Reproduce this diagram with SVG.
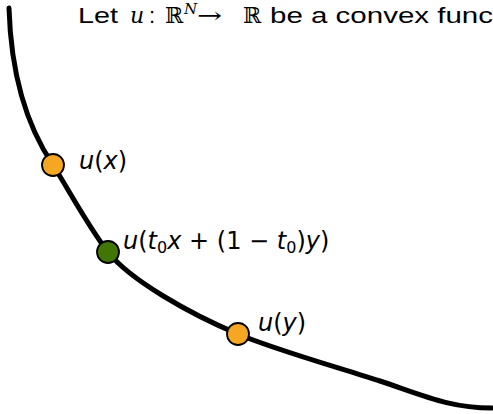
<svg xmlns="http://www.w3.org/2000/svg" width="493" height="414" viewBox="0 0 493 414">
<style>
.curve{fill:none;stroke:#000;stroke-width:5;stroke-linecap:round}
.pt{stroke:#000;stroke-width:1.8}
.orange{fill:#F5A623}
.green{fill:#417505}
.lbl{font-family:"DejaVu Sans",sans-serif;font-size:24px;fill:#000}
.it{font-style:italic}
.title{font-family:"Liberation Sans",sans-serif;font-size:22px;fill:#000}
.math{font-family:"DejaVu Serif",serif}
</style>
<rect width="493" height="414" fill="#fff"/>
<g id="title">
<text class="title" y="23"><tspan x="78" textLength="40" lengthAdjust="spacingAndGlyphs">Let</tspan><tspan x="130" class="math it">u</tspan><tspan x="149">:</tspan><tspan x="165" class="math">ℝ</tspan><tspan x="184" y="14" class="math it" font-size="15">N</tspan><tspan x="197" y="23" class="math" textLength="25" lengthAdjust="spacingAndGlyphs">→</tspan><tspan x="243" class="math">ℝ</tspan><tspan x="270" textLength="223" lengthAdjust="spacingAndGlyphs">be a convex func</tspan></text>
</g>
<g id="connectors">
<path class="curve" d="M9,8 C11,75 28,128 53,165 C70,192 88,226 108,252 C130,280 190,314 238,334 C270,348 330,365 380,381 C425,396 450,408 492,408"/>
</g>
<g id="ux">
<circle class="pt orange" cx="53" cy="165" r="11"/>
<text class="lbl" x="79" y="169"><tspan class="it">u</tspan>(<tspan class="it">x</tspan>)</text>
</g>
<g id="umid">
<circle class="pt green" cx="108" cy="252" r="11"/>
<text class="lbl" x="123" y="249"><tspan class="it">u</tspan>(<tspan class="it">t</tspan><tspan font-size="16" dy="4">0</tspan><tspan class="it" dy="-4">x</tspan> + (1 − <tspan class="it">t</tspan><tspan font-size="16" dy="4">0</tspan><tspan dy="-4">)</tspan><tspan class="it">y</tspan>)</text>
</g>
<g id="uy">
<circle class="pt orange" cx="238" cy="334" r="11"/>
<text class="lbl" x="258" y="331"><tspan class="it">u</tspan>(<tspan class="it">y</tspan>)</text>
</g>
</svg>
